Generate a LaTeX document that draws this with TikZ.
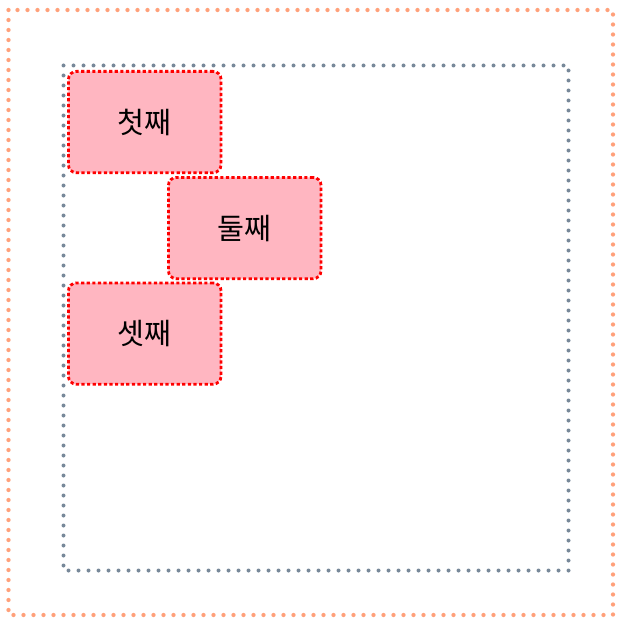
\documentclass[tikz,border=0pt]{standalone}
\usepackage{fontspec}
\newfontfamily\kofont{Noto Sans CJK KR}
\definecolor{framesalmon}{HTML}{FFA07A}
\definecolor{framegray}{HTML}{778899}
\definecolor{boxpink}{HTML}{FFB6C1}

\begin{document}
\begin{tikzpicture}[x=0.75pt, y=-0.75pt,
  outerframe/.style={framesalmon, line width=3.2pt, line cap=round, dash pattern=on 0pt off 7.5pt},
  innerframe/.style={framegray, line width=3pt, line cap=round, dash pattern=on 0pt off 7.5pt},
  tagbox/.style={draw=red, fill=boxpink, line width=2.1pt, dash pattern=on 2.4pt off 1.8pt,
    rounded corners=6pt, minimum width=114.5pt, minimum height=76pt, inner sep=0pt,
    font=\kofont\fontsize{22}{25}\selectfont}]
  \useasboundingbox (0,0) rectangle (630,635);
  % ------- frames -------
  \draw[outerframe] (8.5,10) rectangle (613,615);
  \draw[innerframe] (63.5,65.5) rectangle (568.5,570.5);
  % ------- boxes -------
  \node[tagbox, anchor=north west] (first) at (67,70) {첫째};
  \node[tagbox, anchor=north west] (second) at (167,176) {둘째};
  \node[tagbox, anchor=north west] (third) at (67,281.5) {셋째};
\end{tikzpicture}
\end{document}
